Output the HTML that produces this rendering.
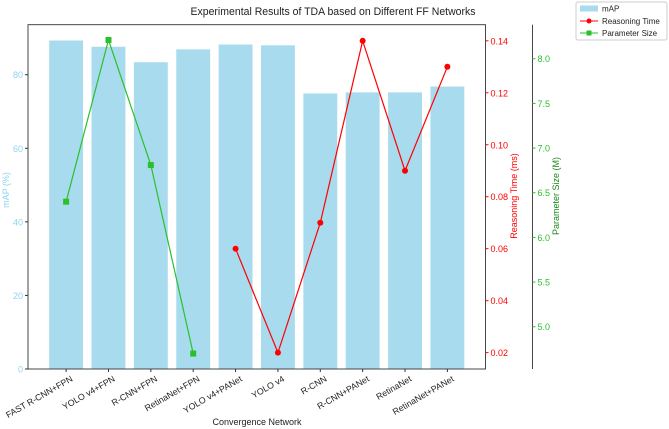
<!DOCTYPE html>
<html><head><meta charset="utf-8"><style>
html,body{margin:0;padding:0;background:#fff;}
svg{display:block;font-family:"Liberation Sans","DejaVu Sans",sans-serif;}
</style></head><body>
<svg id="chart" width="669" height="429" viewBox="0 0 669 429">
<text x="333" y="15" text-anchor="middle" font-size="11" textLength="285" lengthAdjust="spacingAndGlyphs" fill="#222">Experimental Results of TDA based on Different FF Networks</text>
<g id="bars"></g><g id="lines"></g><g id="axes"></g>
<g>
<rect x="576" y="2" width="91" height="38" fill="#fff" stroke="#ccc" rx="2"/>
<rect x="580" y="5.5" width="18" height="6" fill="#a8dbee"/>
<text x="602" y="11.5" font-size="8" fill="#222">mAP</text>
<line x1="580" y1="21" x2="598" y2="21" stroke="red"/>
<circle cx="589" cy="21" r="2.5" fill="red"/>
<text x="602" y="24" font-size="8" fill="#222">Reasoning Time</text>
<line x1="580" y1="33" x2="598" y2="33" stroke="#2bc02b"/>
<rect x="586.5" y="30.5" width="5" height="5" fill="#2bc02b"/>
<text x="602" y="36" font-size="8" fill="#222">Parameter Size</text>
</g>
</svg>
<script>
const categories=["FAST R-CNN+FPN","YOLO v4+FPN","R-CNN+FPN","RetinaNet+FPN","YOLO v4+PANet","YOLO v4","R-CNN","R-CNN+PANet","RetinaNet","RetinaNet+PANet"];
const mapValues=[89.3,87.6,83.4,86.9,88.2,88.0,74.9,75.2,75.2,76.8];
const timeValues=[null,null,null,null,0.06,0.02,0.07,0.14,0.09,0.13];
const paramValues=[6.40,8.21,6.81,4.70,null,null,null,null,null,null];
const mapTicks=[0,20,40,60,80];
const timeTicks=[0.02,0.04,0.06,0.08,0.10,0.12,0.14];
const paramTicks=[5.0,5.5,6.0,6.5,7.0,7.5,8.0];

const NS="http://www.w3.org/2000/svg";
const L=28,R=485.5,T=24.7,B=369;
const xS=i=>L+(i+0.9)*(R-L)/10.8;
const bw=0.8*(R-L)/10.8;
const yMap=v=>B-(v-0)/(93.6-0)*(B-T);
const yTime=v=>B-(v-0.0137)/(0.1462-0.0137)*(B-T);
const yParam=v=>B-(v-4.527)/(8.381-4.527)*(B-T);
function mk(tag,attrs,parent,txt){const e=document.createElementNS(NS,tag);for(const k in attrs)e.setAttribute(k,attrs[k]);if(txt!==undefined)e.textContent=txt;parent.appendChild(e);return e;}
const gb=document.getElementById('bars'),gl=document.getElementById('lines'),ga=document.getElementById('axes');
mapValues.forEach((v,i)=>{
  const r=mk('rect',{x:xS(i)-bw/2,y:yMap(v),width:bw,height:B-yMap(v),fill:'#a8dbee'},gb);
  
  
});
function series(vals,yf,color,kind,name){
  const pts=[];vals.forEach((v,i)=>{if(v!==null)pts.push([xS(i),yf(v)]);});
  const p=mk('polyline',{points:pts.map(q=>q.join(',')).join(' '),fill:'none',stroke:color,'stroke-width':1.2},gl);
  
  
  pts.forEach(q=>{
    const m=kind==='c'?mk('circle',{cx:q[0],cy:q[1],r:3,fill:color},gl):mk('rect',{x:q[0]-3,y:q[1]-3,width:6,height:6,fill:color},gl);
    
    
  });
}
series(paramValues,yParam,'#2bc02b','s','param');
series(timeValues,yTime,'red','c','time');
mk('rect',{x:L,y:T,width:R-L,height:B-T,fill:'none',stroke:'#333','stroke-width':0.9},ga);
mk('line',{x1:532.5,y1:T,x2:532.5,y2:B,stroke:'#333','stroke-width':0.9},ga);
mapTicks.forEach(t=>{const y=yMap(t);mk('line',{x1:L-3,y1:y,x2:L,y2:y,stroke:'#333'},ga);
  const tx=mk('text',{x:L-5,y:y+3.5,'text-anchor':'end','font-size':9,fill:'#8fd3ee'},ga,String(t));
  
  });
timeTicks.forEach(t=>{const y=yTime(t);mk('line',{x1:R,y1:y,x2:R+3,y2:y,stroke:'red'},ga);
  const tx=mk('text',{x:R+5,y:y+3.5,'font-size':9,fill:'red'},ga,t.toFixed(2));
  
  });
paramTicks.forEach(t=>{const y=yParam(t);mk('line',{x1:532.5,y1:y,x2:535.5,y2:y,stroke:'#2bc02b'},ga);
  const tx=mk('text',{x:537.5,y:y+3.5,'font-size':9,fill:'#2bc02b'},ga,t.toFixed(1));
  
  });
categories.forEach((c,i)=>{const x=xS(i);mk('line',{x1:x,y1:B,x2:x,y2:B+3,stroke:'#333'},ga);
  const ax=x+4,ay=B+6;
  const tx=mk('text',{x:ax,y:ay,'text-anchor':'end','dominant-baseline':'hanging','font-size':8.8,fill:'#222',transform:`rotate(-30 ${ax} ${ay})`},ga,c);
  
  });
let t1=mk('text',{x:257,y:425,'text-anchor':'middle','font-size':9,fill:'#222'},ga,'Convergence Network');


let t2=mk('text',{x:9,y:190,'text-anchor':'middle','font-size':9,fill:'#8fd3ee',transform:'rotate(-90 9 190)'},ga,'mAP (%)');


let t3=mk('text',{x:517,y:196,'text-anchor':'middle','font-size':9,fill:'red',transform:'rotate(-90 517 196)'},ga,'Reasoning Time (ms)');


let t4=mk('text',{x:559,y:196,'text-anchor':'middle','font-size':9,fill:'#1a8a1a',transform:'rotate(-90 559 196)'},ga,'Parameter Size (M)');


</script>
</body></html>
